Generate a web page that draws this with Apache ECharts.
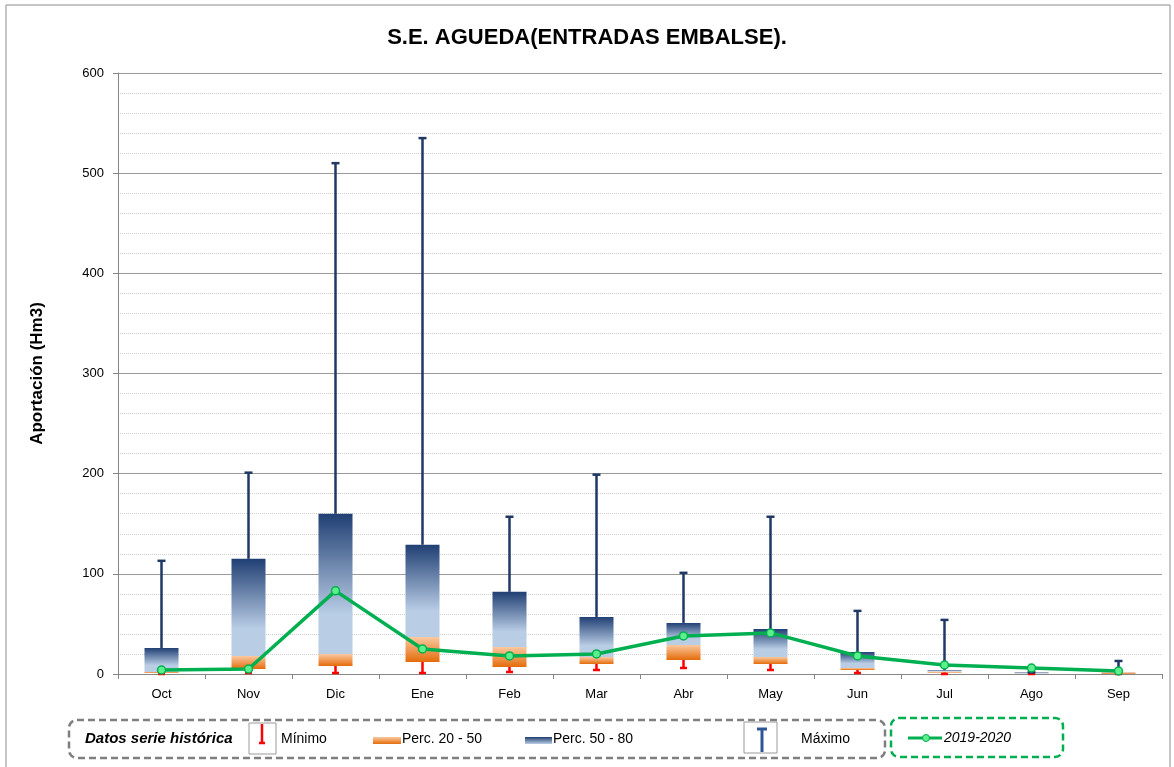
<!DOCTYPE html>
<html><head><meta charset="utf-8">
<script src="https://cdn.jsdelivr.net/npm/echarts@6/dist/echarts.min.js"></script>
<style>html,body{margin:0;padding:0;background:#fff}#c{width:1174px;height:767px}</style>
</head><body><div id="c"></div>
<script>
const categories = ['Oct','Nov','Dic','Ene','Feb','Mar','Abr','May','Jun','Jul','Ago','Sep'];
const minimo  = [0, 1, 1, 1, 2, 4, 6, 4, 1, 0, 0, 0];
const perc20  = [1, 5, 8, 12, 7, 10, 14, 10, 4, 1.5, 0.3, 0.3];
const perc50  = [2, 18, 20, 37, 27, 17, 29, 17, 6, 2.5, 0.6, 1.8];
const perc80  = [26, 115, 160, 129, 82, 57, 51, 45, 22, 3.8, 1.6, 2];
const maximo  = [113, 201, 510, 535, 157, 199, 101, 157, 63, 54, 1.6, 13];
const actual  = [4, 5, 83, 25, 18, 20, 38, 41, 18, 9, 6, 3];
const yTicks  = [0, 100, 200, 300, 400, 500, 600];

const chart = echarts.init(document.getElementById('c'));
const FONT = 'Liberation Sans';
const orangeGrad = {type:'linear',x:0,y:0,x2:0,y2:1,colorStops:[{offset:0,color:'#fbc9a1'},{offset:1,color:'#e46c0a'}]};
const blueGrad = {type:'linear',x:0,y:0,x2:0,y2:1,colorStops:[{offset:0,color:'#203f73'},{offset:0.72,color:'#b9cde5'},{offset:1,color:'#b9cde5'}]};

function whisker(color, capW, lw) {
  return function(params, api) {
    const i = api.value(0);
    const a = api.coord([i, api.value(1)]);
    const b = api.coord([i, api.value(2)]);
    return {type:'group', children:[
      {type:'line', shape:{x1:a[0],y1:a[1],x2:b[0],y2:b[1]}, style:{stroke:color,lineWidth:lw}},
      {type:'line', shape:{x1:b[0]-capW/2,y1:b[1],x2:b[0]+capW/2,y2:b[1]}, style:{stroke:color,lineWidth:lw}}
    ]};
  };
}

const option = {
  animation:false,
  backgroundColor:'#fff',
  title:{text:'S.E. AGUEDA(ENTRADAS EMBALSE).', left:'center', top:22,
    textStyle:{fontFamily:FONT,fontSize:22,fontWeight:'bold',color:'#000'}},
  grid:{left:118,right:12,top:73,bottom:93},
  xAxis:{type:'category',data:categories,boundaryGap:true,
    axisLine:{lineStyle:{color:'#868686'}},
    axisTick:{show:true,alignWithLabel:false,length:5,lineStyle:{color:'#868686'}},
    axisLabel:{fontFamily:FONT,fontSize:13,color:'#000',margin:14}},
  yAxis:{type:'value',min:yTicks[0],max:yTicks[yTicks.length-1],interval:100,
    name:'Aportación (Hm3)',nameLocation:'middle',nameGap:72,nameRotate:90,
    nameTextStyle:{fontFamily:FONT,fontSize:17,fontWeight:'bold',color:'#000'},
    axisLine:{show:true,lineStyle:{color:'#868686'}},
    axisTick:{show:true,length:5,lineStyle:{color:'#868686'}},
    axisLabel:{fontFamily:FONT,fontSize:13,color:'#000',margin:14},
    splitLine:{show:true,lineStyle:{color:'#9a9a9a',width:1}},
    minorTick:{show:false,splitNumber:5},
    minorSplitLine:{show:true,lineStyle:{color:'#cfcfcf',type:'dotted',width:1}}},
  series:[
    {type:'bar',stack:'b',data:perc20,barWidth:34,itemStyle:{color:'rgba(0,0,0,0)'},silent:true},
    {type:'bar',stack:'b',data:perc50.map((v,i)=>v-perc20[i]),barWidth:34,itemStyle:{color:orangeGrad}},
    {type:'bar',stack:'b',data:perc80.map((v,i)=>v-perc50[i]),barWidth:34,itemStyle:{color:blueGrad}},
    {type:'custom',renderItem:whisker('#ff0000',7,2.5),data:categories.map((c,i)=>[i,perc20[i],minimo[i]]),z:3},
    {type:'custom',renderItem:whisker('#1f3864',8,2.5),data:categories.map((c,i)=>[i,perc80[i],maximo[i]]),z:3},
    {type:'line',data:actual,z:5,symbol:'circle',symbolSize:8,
      lineStyle:{color:'#00b050',width:3.5},
      itemStyle:{color:'#5cf08c',borderColor:'#00b050',borderWidth:1.5}}
  ],
  graphic:[
    {type:'rect',shape:{x:6,y:5,width:1164,height:770},style:{fill:'none',stroke:'#8c8c8c',lineWidth:1},silent:true},
    {type:'rect',shape:{x:69,y:720,width:816,height:38,r:8},style:{fill:'none',stroke:'#7f7f7f',lineWidth:2.5,lineDash:[7,4]}},
    {type:'text',left:85,top:731,style:{text:'Datos serie histórica',font:'italic bold 15px "Liberation Sans"',fill:'#000'}},
    {type:'rect',shape:{x:249,y:723,width:27,height:31},style:{fill:'#fff',stroke:'#9a9a9a',lineWidth:1}},
    {type:'line',shape:{x1:262,y1:724,x2:262,y2:743},style:{stroke:'#ff0000',lineWidth:2.5}},
    {type:'line',shape:{x1:259,y1:743,x2:265,y2:743},style:{stroke:'#ff0000',lineWidth:2.5}},
    {type:'text',left:281,top:732,style:{text:'Mínimo',font:'14px "Liberation Sans"',fill:'#000'}},
    {type:'rect',shape:{x:373,y:737,width:28,height:7},style:{fill:orangeGrad}},
    {type:'text',left:402,top:732,style:{text:'Perc. 20 - 50',font:'14px "Liberation Sans"',fill:'#000'}},
    {type:'rect',shape:{x:525,y:737,width:27,height:7},style:{fill:{type:'linear',x:0,y:0,x2:0,y2:1,colorStops:[{offset:0,color:'#223f70'},{offset:1,color:'#b9cde5'}]}}},
    {type:'text',left:553,top:732,style:{text:'Perc. 50 - 80',font:'14px "Liberation Sans"',fill:'#000'}},
    {type:'rect',shape:{x:744,y:722,width:33,height:31},style:{fill:'#fff',stroke:'#9a9a9a',lineWidth:1}},
    {type:'line',shape:{x1:762,y1:729,x2:762,y2:752},style:{stroke:'#2e5597',lineWidth:3}},
    {type:'line',shape:{x1:757,y1:729,x2:767,y2:729},style:{stroke:'#2e5597',lineWidth:3}},
    {type:'text',left:801,top:732,style:{text:'Máximo',font:'14px "Liberation Sans"',fill:'#000'}},
    {type:'rect',shape:{x:891,y:718,width:172,height:39,r:8},style:{fill:'none',stroke:'#00b050',lineWidth:2.5,lineDash:[7,4]}},
    {type:'line',shape:{x1:908,y1:738,x2:942,y2:738},style:{stroke:'#00b050',lineWidth:3}},
    {type:'circle',shape:{cx:926,cy:738,r:3.5},style:{fill:'#5cf08c',stroke:'#00b050',lineWidth:1}},
    {type:'text',left:944,top:731,style:{text:'2019-2020',font:'italic 14px "Liberation Sans"',fill:'#000'}}
  ]
};
chart.setOption(option);
</script></body></html>
